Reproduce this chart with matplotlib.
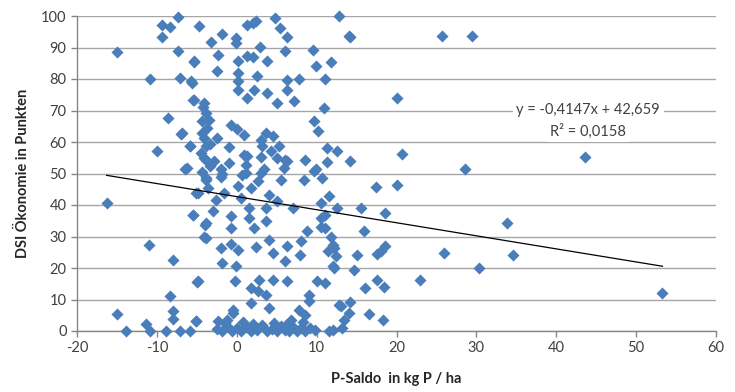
import matplotlib
matplotlib.use("Agg")
import matplotlib.pyplot as plt
import numpy as np

plt.rcParams['font.family'] = ['Lato', 'DejaVu Sans']

# P-Saldo (kg P/ha) and DSI Ökonomie (points)
p_saldo = [
    -15.0, -16.3, -15.0, -13.9, -7.3, -9.3, -8.3, -4.7, -9.3, -3.2, -7.4, -5.4, -10.8, -7.1, -5.6, -5.4,
    -8.6, -7.0, -5.8, -10.0, -6.5, -4.1, -3.9, -4.9, -5.5, -4.0, -4.1, -11.0, -8.0, -5.0, -8.3, -8.0,
    -8.0, -5.1, -11.3, -10.8, -8.9, -7.1, -5.9,
    -5.5, -4.1, -3.9, -4.3, -3.7, -6.8, -4.1, -5.8, -3.9, -3.9, -6.2, -3.9, -5.1, -5.5, -3.9, -3.9,
    -4.9, -5.1, -4.2, -3.5, -4.4, -3.4, -4.5, -3.4, -4.3, -3.6,
    1.3, 2.0, 2.4, 4.75, 12.75, -1.8, -0.1, -0.1, 5.4, 6.25, 14.0, 2.9, -2.4, -5.3, 1.3, 2.0, 0.1,
    3.75, 6.1, 9.5, 9.9, 11.8, -2.5, 0.1, -5.75, 0.1, 2.5, 6.25, 7.8, 11.0, 0.1, 2.2, 6.25, 3.8,
    1.25, 5.0, 7.2, 10.9, 9.7, 10.2, -0.7, 0.0, 0.9, -2.5, 3.6, 4.5, 3.0, -1.0, 3.2, 4.25, 11.3,
    12.6, 1.3, 5.1, -2.8, -1.0, 1.1, 6.3, 8.5, 11.3, -2.0, 3.4, 5.9, 9.9, 5.3, 0.9, 3.0, 6.1,
    -1.8, 1.1, 3.0, 5.5, 8.4, 10.7, 9.7, -1.6, 0.1, 1.75, 2.6, 0.5, -2.6, 4.0, 5.1, 7.0, 11.5,
    10.5, 12.6, -3.0, -0.75, 1.5, 1.5, 3.6, -0.75, 2.2, 10.5, 11.1, 8.75, 4.0, 11.75, 8.0, 6.3,
    -2.0, -0.75, 2.4, 12.2, -2.0, 0.7, 3.6,
    0.1, 4.6, 7.9, 11.4, -1.8, -0.1, 6.1, 12.0, -0.25, 2.8, 4.5, 6.25, 10.1, 1.8, 2.6, 3.6, 1.75,
    4.0, 9.0, 7.8, 13.0, -0.5, -1.2, -2.4, 6.75, 8.6, 13.4, 9.0, -0.5,
    -2.5, -1.8, -1.2, -0.6, 0.0, 0.5, 1.2, 1.8, 2.5, 3.2, 3.8, 4.4, 5.0, 5.5, 6.0, 6.5, 7.0, 7.5,
    8.0, 8.6, 9.2, 9.8, 11.5, 12.0, 13.2, -1.5, 2.0, 4.7, 8.3, 6.2, 0.8,
    14.2, 25.7, 29.5, 20.0, 14.2, 20.7, 28.6, 43.6, 17.4, 20.0, 15.5, 18.6, 11.1, 10.5, 15.9, 33.8,
    12.0, 18.6, 18.0, 17.6, 12.4, 15.1, 26.0, 34.6, 12.2, 14.7, 30.3, 22.9, 11.1, 17.6, 18.4, 16.0,
    53.3, 14.2, 12.8, 14.0, 16.5, 18.3,
]
dsi_oekonomie = [
    88.5, 40.5, 5.3, 0.0, 99.6, 97.0, 96.4, 96.7, 93.2, 91.6, 89.0, 85.5, 79.9, 80.3, 78.8, 73.3,
    67.7, 62.5, 58.7, 57.0, 51.4, 55.0, 48.5, 43.7, 36.8, 33.6, 30.0, 27.3, 22.5, 15.7, 11.2, 6.5,
    3.8, 3.2, 2.1, 0.0, 0.0, 0.0, 0.0,
    73.4, 72.4, 69.2, 66.6, 64.4, 62.9, 61.3, 58.6, 58.6, 54.4, 51.7, 48.0, 43.8, 36.9, 34.3, 29.5,
    15.8, 3.1, 71.0, 67.0, 63.0, 59.5, 56.5, 52.5, 50.5, 45.5,
    97.2, 97.8, 98.3, 99.4, 100.0, 94.4, 93.0, 91.4, 96.2, 93.2, 93.5, 90.3, 87.7, 85.8, 87.2, 86.9, 85.6,
    85.8, 88.8, 89.3, 84.0, 85.4, 82.6, 81.9, 79.4, 79.4, 80.8, 79.8, 80.1, 80.1, 76.6, 76.6, 76.6, 75.6,
    74.0, 72.4, 72.9, 70.8, 66.6, 63.4, 65.5, 64.2, 62.3, 61.3, 62.9, 61.8, 60.7, 58.3, 58.6, 57.0, 58.1,
    57.0, 55.4, 54.9, 53.9, 53.3, 52.8, 53.9, 54.4, 53.7, 51.3, 51.3, 51.7, 51.3, 58.7, 55.9, 55.3, 54.3,
    49.7, 50.2, 50.2, 48.0, 48.0, 48.6, 50.7, 43.8, 45.9, 45.4, 47.5, 42.2, 41.7, 43.3, 41.2, 39.0, 42.8,
    40.6, 39.0, 38.0, 36.4, 39.0, 35.8, 34.8, 32.7, 32.7, 35.8, 32.7, 31.6, 29.0, 30.0, 28.5, 26.9,
    26.3, 27.6, 26.6, 26.3, 49.0, 49.5, 39.0,
    25.8, 24.8, 24.0, 25.3, 21.6, 20.5, 22.1, 20.5, 15.8, 16.3, 16.3, 15.8, 15.8, 13.7, 12.6, 11.5, 8.9,
    7.3, 9.4, 6.8, 7.8, 6.8, 3.6, 3.3, 3.6, 5.2, 3.6, 11.4, 5.6,
    0.5, 0.0, 1.5, 0.0, 0.8, 0.0, 1.2, 0.0, 0.3, 1.8, 0.0, 0.6, 0.0, 1.5, 0.3, 0.0, 1.2, 0.0,
    0.8, 0.0, 1.0, 0.2, 0.0, 0.3, 0.8, 2.5, 2.2, 2.5, 2.8, 2.0, 3.0,
    93.2, 93.7, 93.7, 74.0, 54.0, 56.2, 51.4, 55.3, 45.8, 46.3, 39.0, 37.4, 36.8, 33.0, 31.7, 34.4,
    27.3, 27.0, 25.4, 24.6, 23.9, 24.1, 24.9, 24.1, 19.9, 19.4, 19.9, 16.2, 15.1, 16.2, 14.1, 13.6,
    12.0, 9.3, 8.3, 5.6, 5.3, 3.4,
]

# Trend line as given in the chart's equation label
slope = -0.4147
intercept = 42.659
equation_label = "y = -0,4147x + 42,659"
r2_label = "R² = 0,0158"

x_ticks = [-20, -10, 0, 10, 20, 30, 40, 50, 60]
y_ticks = [0, 10, 20, 30, 40, 50, 60, 70, 80, 90, 100]

fig = plt.figure(figsize=(7.35, 3.92), dpi=100)
ax = fig.add_axes([77 / 735, 1 - 331 / 392, (716 - 77) / 735, (331 - 16) / 392])

ax.set_xlim(-20, 60)
ax.set_ylim(0, 100)
ax.set_xticks(x_ticks)
ax.set_yticks(y_ticks)
ax.set_xticklabels([str(t) for t in x_ticks])
ax.set_yticklabels([str(t) for t in y_ticks])

ax.grid(axis='y', color='#A6A6A6', linewidth=1.0, zorder=0)
ax.set_axisbelow(True)
for s in ['top', 'right']:
    ax.spines[s].set_visible(False)
for s in ['left', 'bottom']:
    ax.spines[s].set_color('#868686')
    ax.spines[s].set_linewidth(1.0)
ax.tick_params(axis='both', colors='#868686', labelcolor='#404040', labelsize=10.5,
               length=4, width=1.0, direction='out')

ax.scatter(p_saldo, dsi_oekonomie, marker='D', s=38, color='#4A7EBB', linewidths=0,
           zorder=3, clip_on=False)

xs = np.array([min(p_saldo), max(p_saldo)])
ax.plot(xs, slope * xs + intercept, color='black', linewidth=0.9, zorder=4)

ax.text(44.0, 70.2, equation_label, ha='center', va='center', fontsize=10.5, color='#404040',
        zorder=5, bbox=dict(facecolor='white', edgecolor='none', pad=2.5))
ax.text(44.0, 63.5, r2_label, ha='center', va='center', fontsize=10.5, color='#404040',
        zorder=5, bbox=dict(facecolor='white', edgecolor='none', pad=2.5))

ax.set_xlabel("P-Saldo  in kg P / ha", fontsize=10.5, fontweight='bold', color='#262626', labelpad=12)
ax.set_ylabel("DSI Ökonomie in Punkten", fontsize=10.5, fontweight='bold', color='#262626', labelpad=8)

fig.savefig("out.png", dpi=100)
